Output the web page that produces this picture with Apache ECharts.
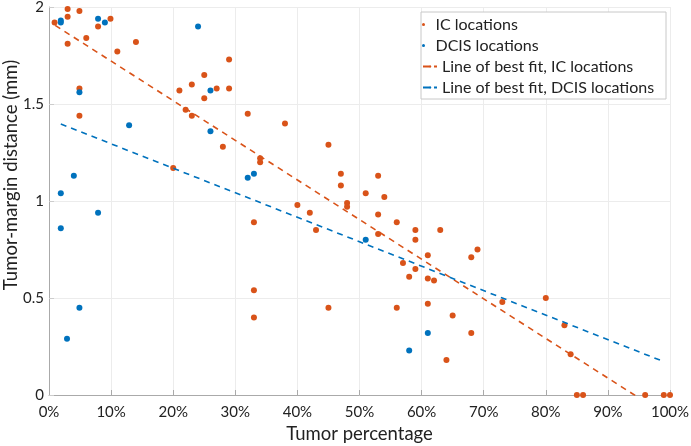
<!DOCTYPE html>
<html>
<head>
<meta charset="utf-8">
<script src="https://cdn.jsdelivr.net/npm/echarts@6/dist/echarts.min.js"></script>
<style>
  html, body { margin: 0; padding: 0; background: #fff; }
  #chart { width: 691px; height: 446px; }
</style>
</head>
<body>
<div id="chart"></div>
<script>
// IC locations
var icX = [0.9, 3, 3, 4.9, 7.9, 9.9, 3, 6, 14, 11, 4.9, 4.9, 21, 23, 25, 25, 27, 29, 29, 22, 23, 28, 32, 34, 34, 20,
  38, 45, 47, 47, 51, 53, 54, 33, 33, 33, 40, 42, 43, 45, 48, 48, 53, 53, 56, 56, 57, 58, 59, 59, 59, 61, 61, 62,
  61, 63, 65, 64, 68, 69, 68, 73, 80, 83, 84, 85, 86, 96, 99, 100];
var icY = [1.92, 1.99, 1.95, 1.98, 1.90, 1.94, 1.81, 1.84, 1.82, 1.77, 1.58, 1.44, 1.57, 1.60, 1.65, 1.53, 1.58, 1.58,
  1.73, 1.47, 1.44, 1.28, 1.45, 1.22, 1.20, 1.17, 1.40, 1.29, 1.14, 1.08, 1.04, 1.13, 1.02, 0.89, 0.54, 0.40, 0.98,
  0.94, 0.85, 0.45, 0.99, 0.97, 0.93, 0.83, 0.89, 0.45, 0.68, 0.61, 0.85, 0.80, 0.65, 0.72, 0.60, 0.59, 0.47, 0.85,
  0.41, 0.18, 0.71, 0.75, 0.32, 0.48, 0.50, 0.36, 0.21, 0, 0, 0, 0, 0];

// DCIS locations
var dcisX = [1.9, 1.9, 7.9, 9, 24, 4.9, 26, 12.9, 26, 4, 32, 33, 1.9, 1.9, 7.9, 4.9, 2.9, 51, 61, 58];
var dcisY = [1.93, 1.92, 1.94, 1.92, 1.90, 1.56, 1.57, 1.39, 1.36, 1.13, 1.12, 1.14, 1.04, 0.86, 0.94, 0.45, 0.29,
  0.80, 0.32, 0.23];

// lines of best fit (end points)
var icFitX = [1, 100];
var icFitY = [1.905, -0.117];
var dcisFitX = [1.9, 99];
var dcisFitY = [1.397, 0.172];

var yTicks = [0, 0.5, 1, 1.5, 2];

function pairs(xs, ys) {
  return xs.map(function (x, i) { return [x, ys[i]]; });
}

var chart = echarts.init(document.getElementById('chart'));
var font = 'Lato';
var orange = '#D95319';
var blue = '#0072BD';

var option = {
  animation: false,
  textStyle: { fontFamily: font },
  grid: { left: 49, right: 21, top: 7, bottom: 51, containLabel: false, outerBoundsMode: 'none' },
  graphic: [
    {
      type: 'rect',
      shape: { x: 421, y: 12, width: 245, height: 87 },
      style: { fill: '#fff', stroke: '#c8c8c8', lineWidth: 1 },
      z: 90
    },
    {
      // y axis title
      type: 'text',
      x: 11, y: 175,
      rotation: Math.PI / 2,
      style: {
        text: 'Tumor-margin distance (mm)',
        font: '18.5px Lato',
        fill: '#222',
        align: 'center',
        verticalAlign: 'middle'
      }
    }
  ],
  legend: [
    {
      data: ['IC locations', 'DCIS locations'],
      orient: 'vertical',
      left: 422, top: 16,
      padding: 0,
      itemWidth: 14, itemHeight: 3,
      itemGap: 4,
      z: 100,
      textStyle: { fontFamily: font, fontSize: 16, color: '#222', lineHeight: 17 }
    },
    {
      data: ['Line of best fit, IC locations', 'Line of best fit, DCIS locations'],
      orient: 'vertical',
      left: 422, top: 58,
      padding: 0,
      itemWidth: 14, itemHeight: 3,
      itemGap: 4,
      z: 100,
      textStyle: { fontFamily: font, fontSize: 16, color: '#222', lineHeight: 17 }
    }
  ],
  xAxis: {
    type: 'value',
    min: 0, max: 100, interval: 10,
    name: 'Tumor percentage',
    nameLocation: 'middle',
    nameGap: 29,
    nameTextStyle: { fontFamily: font, fontSize: 18.5, color: '#222' },
    axisLine: { lineStyle: { color: '#aaa' } },
    axisTick: { inside: true, length: 5, lineStyle: { color: '#aaa' } },
    axisLabel: { formatter: '{value}%', fontSize: 15, color: '#222', margin: 10 },
    splitLine: { show: true, lineStyle: { color: '#ececec' } }
  },
  yAxis: {
    type: 'value',
    min: yTicks[0], max: yTicks[yTicks.length - 1], interval: 0.5,
    axisLine: { show: true, lineStyle: { color: '#aaa' } },
    axisTick: { show: true, inside: true, length: 5, lineStyle: { color: '#ccc' } },
    axisLabel: { fontSize: 15, color: '#222', margin: 5 },
    splitLine: { show: true, lineStyle: { color: '#ececec' } }
  },
  series: [
    {
      name: 'IC locations',
      type: 'scatter',
      symbolSize: 6,
      itemStyle: { color: orange, opacity: 1 },
      data: pairs(icX, icY)
    },
    {
      name: 'DCIS locations',
      type: 'scatter',
      symbolSize: 6,
      itemStyle: { color: blue, opacity: 1 },
      data: pairs(dcisX, dcisY)
    },
    {
      name: 'Line of best fit, IC locations',
      type: 'line',
      showSymbol: false,
      symbol: 'none',
      clip: true,
      itemStyle: { color: orange },
      lineStyle: { color: orange, width: 1.6, type: [6, 5] },
      data: pairs(icFitX, icFitY)
    },
    {
      name: 'Line of best fit, DCIS locations',
      type: 'line',
      showSymbol: false,
      symbol: 'none',
      clip: true,
      itemStyle: { color: blue },
      lineStyle: { color: blue, width: 1.6, type: [6, 5] },
      data: pairs(dcisFitX, dcisFitY)
    }
  ]
};

chart.setOption(option);
window.addEventListener('resize', function () {
  chart.resize();
});
</script>
</body>
</html>
